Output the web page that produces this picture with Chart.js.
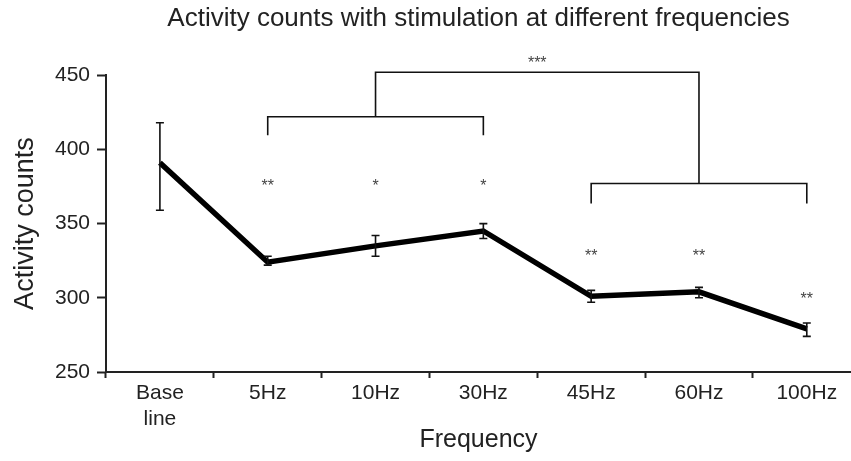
<!DOCTYPE html>
<html>
<head>
<meta charset="utf-8">
<script src="https://cdn.jsdelivr.net/npm/chart.js@4"></script>
<style>
  html, body { margin: 0; padding: 0; background: #fff; }
  #wrap { width: 851px; height: 461px; }
</style>
</head>
<body>
<div id="wrap"><canvas id="chart1"></canvas></div>
<script>
// data
const xLabels = [['Base', 'line'], '5Hz', '10Hz', '30Hz', '45Hz', '60Hz', '100Hz'];
const means = [391, 324, 335, 345, 301, 304, 279];
const errHigh = [418, 328, 342, 350, 305, 307, 283];
const errLow = [359, 322, 328, 340, 297, 300, 274];
const yTicks = [250, 300, 350, 400, 450];

// significance marks: text and height (in activity counts) per category
const starText = ['', '**', '*', '*', '**', '**', '**'];
const starLevel = [null, 378, 378, 378, 331, 331, 302];

// bracket segments [x1, y1, x2, y2] in category index / activity counts
const bracketSegs = [
    [1, 410, 1, 422], [1, 422, 3, 422], [3, 422, 3, 410],
    [2, 422, 2, 452], [2, 452, 5, 452], [5, 452, 5, 377],
    [4, 364, 4, 377], [4, 377, 6, 377], [6, 377, 6, 364]
];
const topMark = { x: 3.5, y: 461, text: '***' };

const FONT = '"Liberation Sans", Arial, Helvetica, sans-serif';

const extras = {
    id: 'extras',
    afterDatasetsDraw(chart) {
        const ctx = chart.ctx;
        const xs = chart.scales.x, ys = chart.scales.y;
        ctx.save();
        // error bars
        ctx.strokeStyle = '#111';
        ctx.lineWidth = 1.6;
        means.forEach((m, i) => {
            const px = xs.getPixelForValue(i);
            const hi = ys.getPixelForValue(errHigh[i]);
            const lo = ys.getPixelForValue(errLow[i]);
            ctx.beginPath();
            ctx.moveTo(px, hi); ctx.lineTo(px, lo);
            ctx.moveTo(px - 4, hi); ctx.lineTo(px + 4, hi);
            ctx.moveTo(px - 4, lo); ctx.lineTo(px + 4, lo);
            ctx.stroke();
        });
        // brackets
        ctx.lineWidth = 1.6;
        ctx.lineCap = 'square';
        ctx.beginPath();
        bracketSegs.forEach(s => {
            ctx.moveTo(xs.getPixelForValue(s[0]), ys.getPixelForValue(s[1]));
            ctx.lineTo(xs.getPixelForValue(s[2]), ys.getPixelForValue(s[3]));
        });
        ctx.stroke();
        // stars
        ctx.fillStyle = '#444';
        ctx.font = '16px ' + FONT;
        ctx.textAlign = 'center';
        ctx.textBaseline = 'alphabetic';
        starText.forEach((t, i) => {
            if (!t) return;
            ctx.fillText(t, xs.getPixelForValue(i), ys.getPixelForValue(starLevel[i]) + 9);
        });
        ctx.fillText(topMark.text, xs.getPixelForValue(topMark.x), ys.getPixelForValue(topMark.y) + 9);
        ctx.restore();
    }
};

new Chart(document.getElementById('chart1'), {
    type: 'line',
    data: {
        datasets: [{
            data: means.map((v, i) => ({ x: i, y: v })),
            borderColor: '#000',
            borderWidth: 5.5,
            borderJoinStyle: 'miter',
            pointRadius: 0,
            tension: 0,
            fill: false
        }]
    },
    plugins: [extras],
    options: {
        responsive: true,
        maintainAspectRatio: false,
        animation: false,
        layout: { padding: 0 },
        plugins: {
            legend: { display: false },
            tooltip: { enabled: false },
            title: {
                display: true,
                fullSize: false,
                text: 'Activity counts with stimulation at different frequencies',
                color: '#222',
                font: { family: FONT, size: 26, weight: 'normal', lineHeight: 1.2 },
                padding: { top: 3, bottom: 41 }
            }
        },
        scales: {
            x: {
                type: 'linear',
                min: -0.5,
                max: 6.41,
                afterBuildTicks: s => { s.ticks = xLabels.map((_, i) => ({ value: i })); },
                afterFit: s => { s.height = 89; },
                grid: {
                    offset: true,
                    drawOnChartArea: false,
                    drawTicks: true,
                    tickLength: 6,
                    tickWidth: 2,
                    tickColor: '#222'
                },
                border: { color: '#222', width: 2 },
                ticks: {
                    padding: 2,
                    color: '#222',
                    maxRotation: 0,
                    autoSkip: false,
                    font: { family: FONT, size: 21, lineHeight: 1.25 },
                    callback: v => xLabels[v]
                },
                title: {
                    display: true,
                    text: 'Frequency',
                    color: '#222',
                    font: { family: FONT, size: 25, lineHeight: 1.2 },
                    padding: { top: 0, bottom: 6 }
                }
            },
            y: {
                min: 250,
                max: 450,
                afterBuildTicks: s => { s.ticks = yTicks.map(v => ({ value: v })); },
                afterFit: s => { s.width = 106; },
                grid: {
                    drawOnChartArea: false,
                    drawTicks: true,
                    tickLength: 9,
                    tickWidth: 2,
                    tickColor: '#222'
                },
                border: { color: '#222', width: 2 },
                ticks: {
                    padding: 7,
                    color: '#222',
                    font: { family: FONT, size: 21 }
                },
                title: {
                    display: true,
                    text: 'Activity counts',
                    color: '#222',
                    font: { family: FONT, size: 27, lineHeight: 1.2 },
                    padding: { top: 9, bottom: 0 }
                }
            }
        }
    }
});
</script>
</body>
</html>
